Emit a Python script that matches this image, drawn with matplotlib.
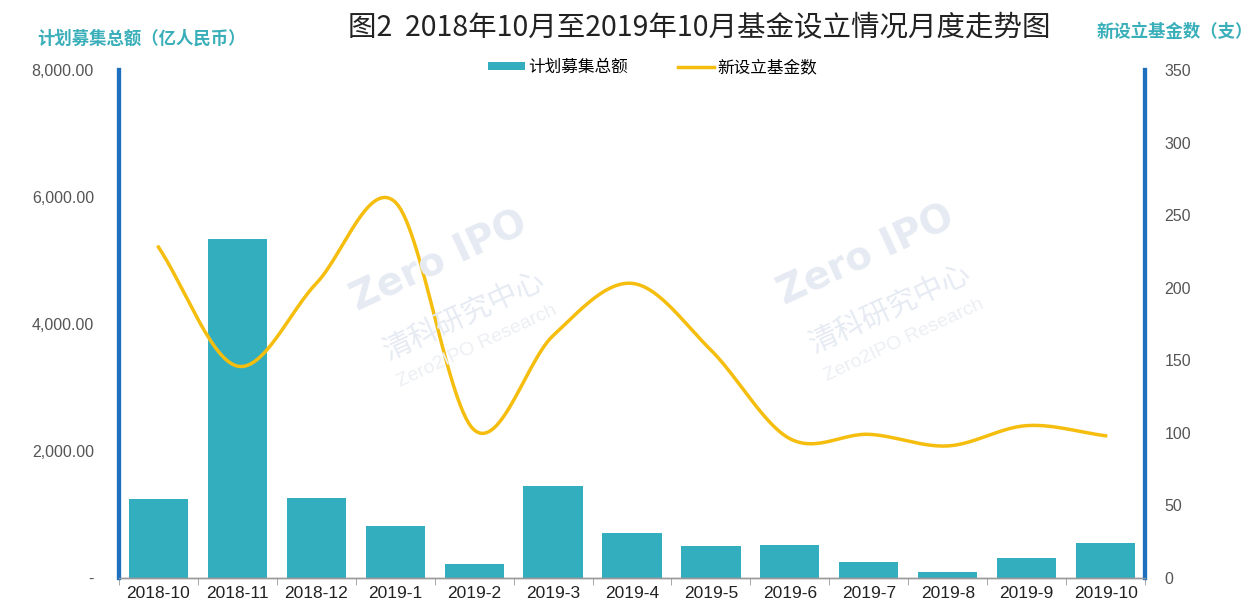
import numpy as np
import matplotlib.pyplot as plt
from matplotlib.ticker import FuncFormatter, MultipleLocator

plt.rcParams['font.family'] = ['Noto Sans CJK SC', 'DejaVu Sans']

months = ['2018-10', '2018-11', '2018-12', '2019-1', '2019-2', '2019-3', '2019-4',
          '2019-5', '2019-6', '2019-7', '2019-8', '2019-9', '2019-10']
raise_amt = [1245, 5340, 1260, 820, 220, 1450, 710, 505, 520, 250, 95, 315, 550]
new_funds = [228, 146, 203, 259, 102, 167, 203, 157, 96, 99, 91, 105, 98]

bar_color = '#33AEBF'
line_color = '#F5BE0F'
axis_blue = '#1F6FBF'
title_teal = '#3AAFB9'


def catmull_rom(x, y, n=30):
    # smooth curve through points, like spreadsheet "smoothed line"
    x = np.asarray(x, float)
    y = np.asarray(y, float)
    px = np.concatenate([[2 * x[0] - x[1]], x, [2 * x[-1] - x[-2]]])
    py = np.concatenate([[2 * y[0] - y[1]], y, [2 * y[-1] - y[-2]]])
    xs, ys = [], []
    t = np.linspace(0, 1, n)
    for i in range(1, len(px) - 2):
        p0, p1, p2, p3 = [np.array([px[j], py[j]]) for j in range(i - 1, i + 3)]
        c1 = p1 + (p2 - p0) / 6
        c2 = p2 - (p3 - p1) / 6
        pts = ((1 - t) ** 3)[:, None] * p1 + (3 * (1 - t) ** 2 * t)[:, None] * c1 \
            + (3 * (1 - t) * t ** 2)[:, None] * c2 + (t ** 3)[:, None] * p2
        xs.append(pts[:, 0])
        ys.append(pts[:, 1])
    return np.concatenate(xs), np.concatenate(ys)


fig = plt.figure(figsize=(12.55, 6.08), dpi=100)
ax = fig.add_axes([0.0948, 0.0493, 0.8176, 0.8356])
ax2 = ax.twinx()

x = np.arange(len(months))

# faint watermarks
for wx, wy in [(0.36, 0.49), (0.70, 0.50)]:
    fig.text(wx - 0.01, wy + 0.08, 'Zero IPO', fontsize=28, color='#E6EBF3', rotation=25,
             ha='center', va='center', fontweight='bold', family='DejaVu Sans', zorder=0)
    fig.text(wx + 0.01, wy - 0.01, '清科研究中心', fontsize=21, color='#E6EBF3', rotation=25,
             ha='center', va='center', zorder=0)
    fig.text(wx + 0.02, wy - 0.06, 'Zero2IPO Research', fontsize=14, color='#ECEFF3', rotation=25,
             ha='center', va='center', family='Liberation Sans', zorder=0)

ax.bar(x, raise_amt, width=0.75, color=bar_color, label='计划募集总额', zorder=2)
sx, sy = catmull_rom(x, new_funds)
ax2.plot(sx, sy, color=line_color, lw=2.5, label='新设立基金数', zorder=3)

ax.set_xlim(-0.5, len(months) - 0.5)
ax.set_ylim(0, 8000)
ax2.set_ylim(0, 350)
ax.yaxis.set_major_locator(MultipleLocator(2000))
ax2.yaxis.set_major_locator(MultipleLocator(50))
ax.yaxis.set_major_formatter(FuncFormatter(lambda v, p: '-' if v == 0 else f'{v:,.2f}'))

ax.set_xticks(x)
ax.set_xticklabels(months, family='Liberation Sans', fontsize=12.5, color='#222222')
ax.set_xticks(np.arange(len(months) + 1) - 0.5, minor=True)
ax.tick_params(axis='x', which='major', length=0, pad=6)
ax.tick_params(axis='x', which='minor', length=5, color='#999999', direction='out')
ax.tick_params(axis='y', length=0, pad=18, labelsize=11.5, labelcolor='#555555')
ax2.tick_params(axis='y', length=0, pad=14, labelsize=11.5, labelcolor='#555555')
for lbl in ax.get_yticklabels() + ax2.get_yticklabels():
    lbl.set_family('Liberation Sans')

for a in (ax, ax2):
    a.spines['top'].set_visible(False)
    a.spines['left'].set_color(axis_blue)
    a.spines['left'].set_linewidth(3)
    a.spines['right'].set_color(axis_blue)
    a.spines['right'].set_linewidth(3)
    a.spines['bottom'].set_color('#999999')
    a.spines['bottom'].set_linewidth(1)
ax.set_zorder(ax2.get_zorder() - 1)
ax.patch.set_visible(False)
ax2.patch.set_visible(False)

fig.text(0.557, 0.955, '图2  2018年10月至2019年10月基金设立情况月度走势图',
         ha='center', va='center', fontsize=20.5, color='#222222')
fig.text(0.03, 0.937, '计划募集总额（亿人民币）', ha='left', va='center',
         fontsize=12.5, color=title_teal, fontweight='bold')
fig.text(0.998, 0.948, '新设立基金数（支）', ha='right', va='center',
         fontsize=12.5, color=title_teal, fontweight='bold')

h1, l1 = ax.get_legend_handles_labels()
h2, l2 = ax2.get_legend_handles_labels()
fig.legend(h1 + h2, l1 + l2, loc='center', bbox_to_anchor=(0.52, 0.889), ncol=2,
           frameon=False, fontsize=12, handlelength=2.2, handleheight=0.4,
           columnspacing=3, handletextpad=0.2)

fig.savefig('out.png', dpi=100)
